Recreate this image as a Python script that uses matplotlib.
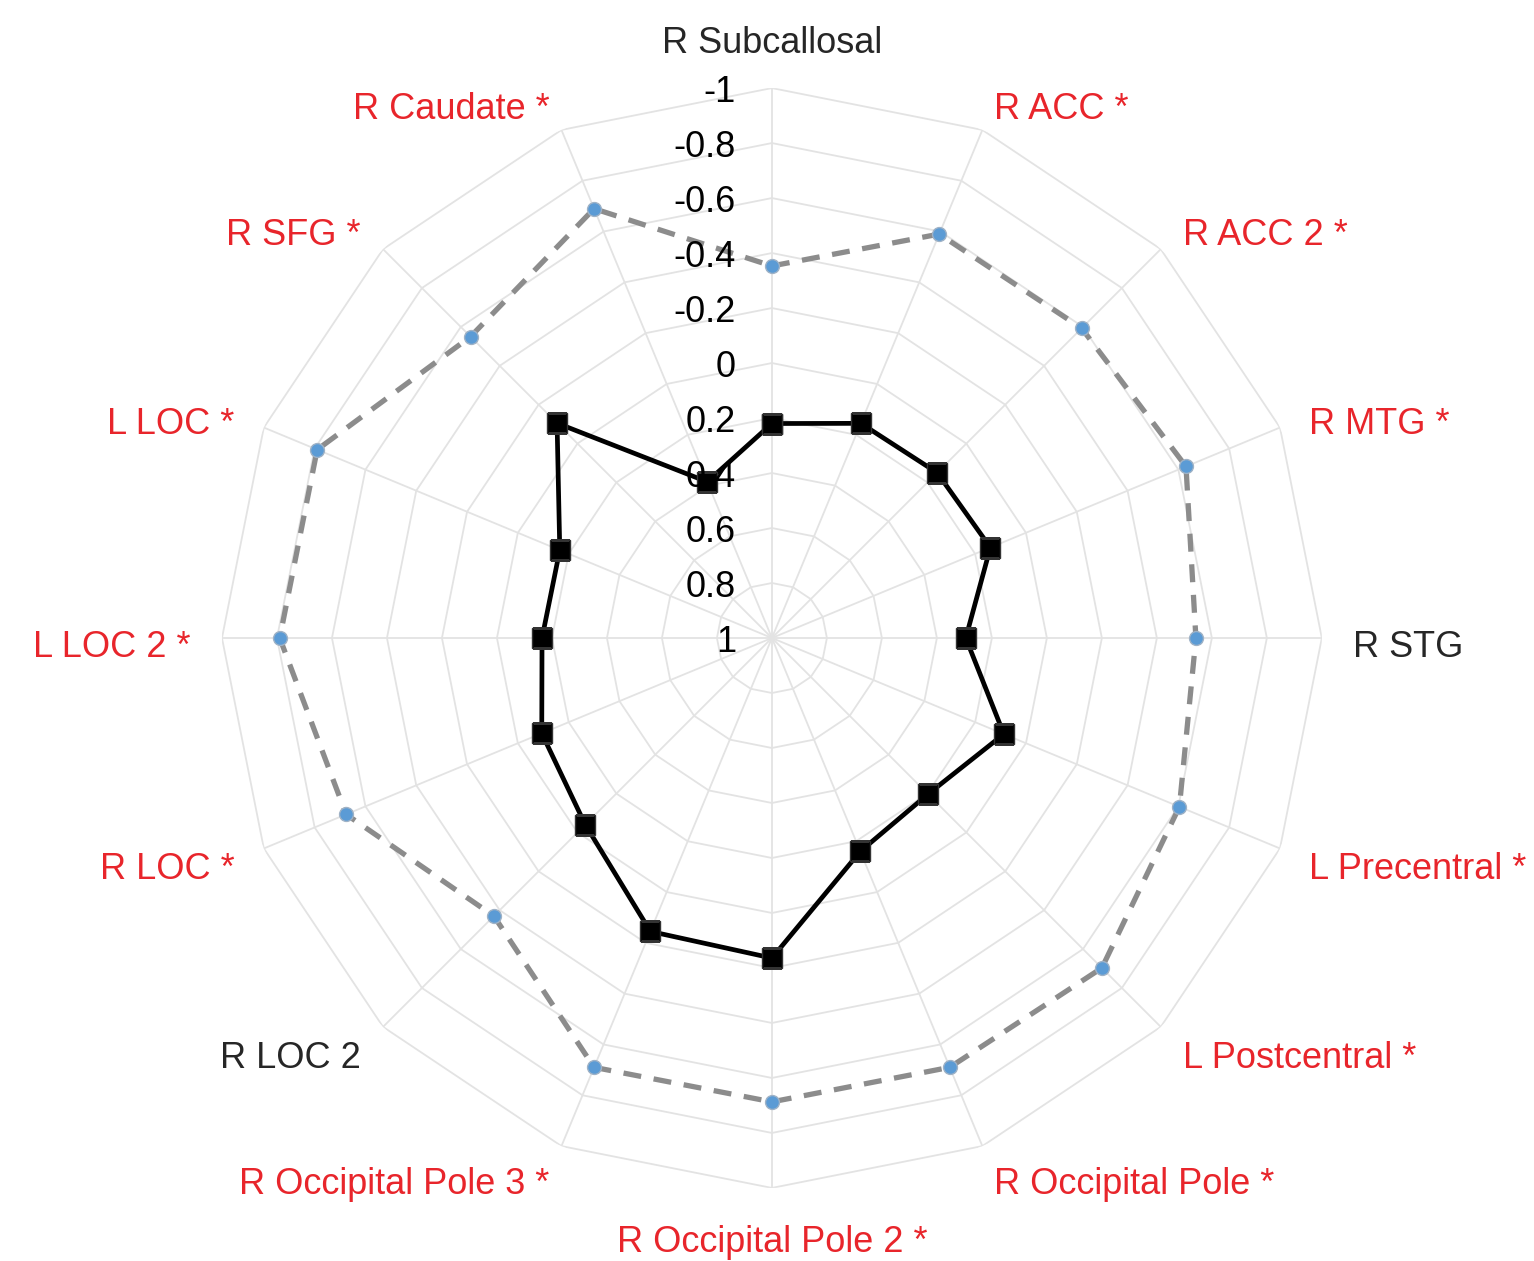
import numpy as np
import matplotlib
matplotlib.use("Agg")
import matplotlib.pyplot as plt
from matplotlib.transforms import offset_copy

plt.rcParams['font.family'] = ['Liberation Sans', 'DejaVu Sans']

labels = ["R Subcallosal", "R ACC *", "R ACC 2 *", "R MTG *", "R STG",
          "L Precentral *", "L Postcentral *", "R Occipital Pole *",
          "R Occipital Pole 2 *", "R Occipital Pole 3 *", "R LOC 2", "R LOC *",
          "L LOC 2 *", "L LOC *", "R SFG *", "R Caudate *"]
solid_vals = [0.22, 0.155, 0.15, 0.14, 0.295, 0.087, 0.197, 0.16,
              -0.164, -0.155, 0.04, 0.094, 0.164, 0.165, -0.105, 0.385]
dashed_vals = [-0.353, -0.59, -0.593, -0.63, -0.542, -0.604, -0.697, -0.69,
               -0.687, -0.69, -0.43, -0.676, -0.79, -0.79, -0.55, -0.69]
r_ticks = [-1, -0.8, -0.6, -0.4, -0.2, 0, 0.2, 0.4, 0.6, 0.8, 1]
r_tick_labels = ["-1", "-0.8", "-0.6", "-0.4", "-0.2", "0", "0.2", "0.4", "0.6", "0.8", "1"]

n = len(labels)
theta = np.arange(n) * 2 * np.pi / n
theta_c = np.append(theta, theta[0])

fig = plt.figure(figsize=(15.34, 12.61), dpi=100)
ax = fig.add_axes([0.1447, 0.0579, 0.717, 0.8723], projection='polar')
ax.set_theta_zero_location('N')
ax.set_theta_direction(-1)
ax.set_ylim(1, -1)
ax.grid(False)
ax.set_xticks([])
ax.set_yticks([])
ax.spines['polar'].set_visible(False)

grid_col = '#e3e3e3'
# polygon rings
for rv in r_ticks[:-1]:
    ax.plot(theta_c, [rv] * (n + 1), color=grid_col, lw=1.3, zorder=1)
# spokes
for t in theta:
    ax.plot([t, t], [1, -1], color=grid_col, lw=1.3, zorder=1)

# series
ax.plot(theta_c, np.append(dashed_vals, dashed_vals[0]), color='#8c8c8c', lw=3.8,
        dashes=(3.4, 2.4), zorder=3)
ax.plot(theta, dashed_vals, 'o', ms=10, mfc='#5b9bd5', mec='#9fb2c6', mew=1, zorder=4)
ax.plot(theta_c, np.append(solid_vals, solid_vals[0]), color='black', lw=3.4, zorder=5,
        marker='s', ms=15, mfc='black', mec='#333333')

# radial tick labels
tr = offset_copy(ax.transData, fig=fig, x=-0.36, y=0, units='inches')
for rv, lab in zip(r_ticks, r_tick_labels):
    ax.text(0, rv, lab, transform=tr, ha='right', va='center_baseline', fontsize=26,
            color='black', zorder=6)

# category labels
red = '#e8252b'
tl = offset_copy(ax.transData, fig=fig, x=0, y=-0.05, units='inches')
for t, lab in zip(theta, labels):
    s, c = np.sin(t), np.cos(t)
    if abs(s) < 1e-6:
        ha = 'center'
        va = 'bottom' if c > 0 else 'top'
    else:
        ha = 'left' if s > 0 else 'right'
        va = 'center_baseline'
    col = red if lab.endswith('*') else '#262626'
    ax.text(t, -1.115, lab, transform=tl, ha=ha, va=va, fontsize=26, color=col)

fig.savefig('out.png', dpi=100, facecolor='white')
